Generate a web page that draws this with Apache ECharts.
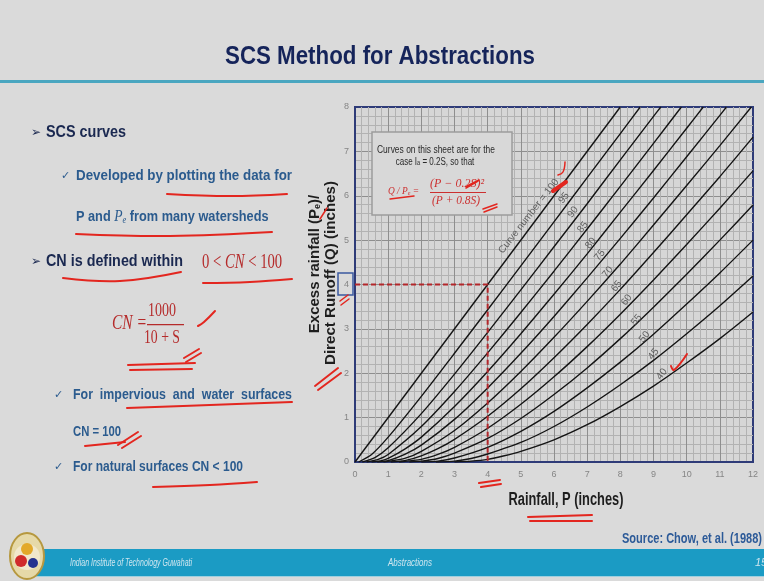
<!DOCTYPE html>
<html>
<head>
<meta charset="utf-8">
<script src="https://cdn.jsdelivr.net/npm/echarts@6/dist/echarts.min.js"></script>
<style>
  html, body { margin: 0; padding: 0; background: #dadada; }
  #main { width: 764px; height: 581px; }
</style>
</head>
<body>
<div id="main"></div>
<script>
// curve numbers, left (steepest) to right
const curveNumbers = [100, 95, 90, 85, 80, 75, 70, 65, 60, 55, 50, 45, 40];

// [rainfall P, runoff Q] in inches
const cn100 = [[0, 0], [8, 8]];
const cn95 = [[0.11, 0], [0.5, 0.17], [1, 0.56], [2, 1.48], [3, 2.45], [4, 3.43], [5, 4.42], [6, 5.41], [7, 6.41], [8, 7.40], [8.6, 8]];
const cn90 = [[0.22, 0], [0.6, 0.10], [1, 0.32], [2, 1.09], [3, 1.98], [4, 2.92], [5, 3.88], [6, 4.85], [7, 5.82], [8, 6.81], [9, 7.79], [9.22, 8]];
const cn85 = [[0.35, 0], [0.7, 0.06], [1, 0.17], [2, 0.80], [3, 1.59], [4, 2.46], [5, 3.37], [6, 4.30], [7, 5.25], [8, 6.21], [9, 7.18], [9.84, 8]];
const cn80 = [[0.5, 0], [0.8, 0.03], [1, 0.08], [1.5, 0.29], [2, 0.56], [3, 1.25], [4, 2.04], [5, 2.89], [6, 3.78], [7, 4.69], [8, 5.63], [9, 6.57], [10, 7.52], [10.5, 8]];
const cn75 = [[0.67, 0], [1, 0.03], [1.5, 0.17], [2, 0.38], [3, 0.96], [4, 1.67], [5, 2.45], [6, 3.28], [7, 4.15], [8, 5.04], [9, 5.95], [10, 6.88], [11, 7.81], [11.2, 8]];
const cn70 = [[0.86, 0], [1.5, 0.08], [2, 0.24], [3, 0.71], [4, 1.33], [5, 2.04], [6, 2.81], [7, 3.62], [8, 4.46], [9, 5.34], [10, 6.23], [11, 7.13], [11.95, 8]];
const cn65 = [[1.08, 0], [1.5, 0.03], [2, 0.14], [2.5, 0.30], [3, 0.51], [4, 1.03], [5, 1.65], [6, 2.35], [7, 3.10], [8, 3.89], [9, 4.72], [10, 5.57], [11, 6.43], [12, 7.32]];
const cn60 = [[1.33, 0], [2, 0.06], [2.5, 0.17], [3, 0.33], [4, 0.76], [5, 1.30], [6, 1.92], [7, 2.60], [8, 3.33], [9, 4.10], [10, 4.90], [11, 5.72], [12, 6.56]];
const cn55 = [[1.64, 0], [2, 0.02], [2.5, 0.08], [3, 0.20], [4, 0.53], [5, 0.98], [6, 1.52], [7, 2.12], [8, 2.78], [9, 3.49], [10, 4.23], [11, 5.00], [12, 5.79]];
const cn50 = [[2, 0], [2.5, 0.02], [3, 0.09], [4, 0.33], [5, 0.69], [6, 1.14], [7, 1.67], [8, 2.25], [9, 2.88], [10, 3.56], [11, 4.26], [12, 5.00]];
const cn45 = [[2.44, 0], [3, 0.02], [3.5, 0.08], [4, 0.18], [5, 0.44], [6, 0.80], [7, 1.24], [8, 1.74], [9, 2.29], [10, 2.89], [11, 3.52], [12, 4.19]];
const cn40 = [[3, 0], [3.5, 0.02], [4, 0.06], [4.5, 0.14], [5, 0.24], [6, 0.50], [7, 0.84], [8, 1.25], [9, 1.71], [10, 2.23], [11, 2.78], [12, 3.38]];
const curves = [cn100, cn95, cn90, cn85, cn80, cn75, cn70, cn65, cn60, cn55, cn50, cn45, cn40];

// red dashed read-off: P = 4 in -> Q = 4 in
const guideP = [0, 4, 4];
const guideQ = [4, 4, 0];

// where the curve-number labels sit (P, Q)
const labelText = ['Curve number = 100', '95', '90', '85', '80', '75', '70', '65', '60', '55', '50', '45', '40'];
const labelAt = [[5.24, 5.54], [6.30, 5.95], [6.57, 5.63], [6.87, 5.29], [7.11, 4.93], [7.38, 4.66], [7.62, 4.28],
                 [7.89, 3.96], [8.19, 3.65], [8.49, 3.20], [8.73, 2.82], [9.0, 2.43], [9.25, 1.98]];

const SANS = '"Liberation Sans", Arial, sans-serif';
const SERIF = '"Liberation Serif", "Times New Roman", serif';
const SYM = '"DejaVu Sans", sans-serif';
const NAVY = '#1a2850';
const BLUE = '#2b5b8e';
const RED = '#b52b2b';
const PEN = '#e3261f';
const NOFILL = 'rgba(0,0,0,0)';

// the slide is squeezed sideways, so fit each text to its measured width
const measureCtx = document.createElement('canvas').getContext('2d');
function fitScale(text, font, width) {
    measureCtx.font = font;
    return width / measureCtx.measureText(text).width;
}

function txt(x, y, text, font, fill, width, align, extra) {
    align = align || 'left';
    return Object.assign({
        type: 'text', x: x, y: y, z: 20,
        scaleX: width ? fitScale(text, font, width) : 1,
        style: { text: text, font: font, fill: fill, textAlign: align, textVerticalAlign: 'middle', align: align, verticalAlign: 'middle' }
    }, extra || {});
}

function pen(points, w) {
    return { type: 'polyline', z: 30, shape: { points: points, smooth: 0.4 }, style: { stroke: PEN, lineWidth: w || 2, fill: null, lineCap: 'round' } };
}

const graphics = [
    // title
    txt(380, 57, 'SCS Method for Abstractions', 'bold 25px ' + SANS, '#15245a', 310, 'center'),
    { type: 'rect', z: 5, shape: { x: 0, y: 80, width: 764, height: 3 }, style: { fill: '#4aa6c0' } },

    // left column
    txt(31, 133, '\u27a2', '12px ' + SYM, NAVY),
    txt(46, 133, 'SCS curves', 'bold 16px ' + SANS, NAVY, 80),
    txt(61, 176, '\u2713', '11px ' + SYM, BLUE),
    txt(76, 176, 'Developed by plotting the data for', 'bold 15px ' + SANS, BLUE, 216),
    {
        type: 'text', x: 76, y: 217, z: 20, scaleX: fitScale('P and Pe from many watersheds', 'bold 15px ' + SANS, 196),
        style: {
            text: '{a|P and }{p|P}{s|e}{a| from many watersheds}', verticalAlign: 'middle', textVerticalAlign: 'middle',
            rich: {
                a: { font: 'bold 15px ' + SANS, fill: BLUE, color: BLUE },
                p: { font: 'italic 16px ' + SERIF, fill: BLUE, color: BLUE },
                s: { font: 'italic 10px ' + SERIF, fill: BLUE, color: BLUE, verticalAlign: 'bottom' }
            }
        }
    },
    txt(31, 262, '\u27a2', '12px ' + SYM, NAVY),
    txt(46, 262, 'CN is defined within', 'bold 16px ' + SANS, NAVY, 137),
    {
        type: 'text', x: 202, y: 263, z: 20, scaleX: fitScale('0 < CN < 100', '20px ' + SERIF, 81),
        style: {
            text: '{n|0 < }{i|CN}{n| < 100}', verticalAlign: 'middle', textVerticalAlign: 'middle',
            rich: {
                n: { font: '20px ' + SERIF, fill: RED, color: RED },
                i: { font: 'italic 20px ' + SERIF, fill: RED, color: RED }
            }
        }
    },
    txt(112, 324, 'CN =', 'italic 20px ' + SERIF, RED, 35),
    txt(162, 311, '1000', '18px ' + SERIF, RED, 28, 'center'),
    { type: 'rect', z: 20, shape: { x: 147, y: 324, width: 37, height: 1.2 }, style: { fill: RED } },
    txt(162, 338, '10 + S', '18px ' + SERIF, RED, 36, 'center'),
    txt(54, 395, '\u2713', '11px ' + SYM, BLUE),
    txt(73, 395, 'For  impervious  and  water  surfaces', 'bold 15px ' + SANS, BLUE, 219),
    txt(73, 432, 'CN = 100', 'bold 15px ' + SANS, BLUE, 48),
    txt(54, 467, '\u2713', '11px ' + SYM, BLUE),
    txt(73, 467, 'For natural surfaces CN < 100', 'bold 15px ' + SANS, BLUE, 170),

    // axis titles
    {
        type: 'text', x: 315, y: 264, z: 20, rotation: Math.PI / 2,
        style: {
            text: '{a|Excess rainfall (P}{s|e}{a|)/}', textAlign: 'center', align: 'center', verticalAlign: 'middle', textVerticalAlign: 'middle',
            rich: { a: { font: 'bold 15px ' + SANS, fill: '#1e1e1e' }, s: { font: 'bold 9px ' + SANS, fill: '#1e1e1e', verticalAlign: 'bottom' } }
        }
    },
    txt(331, 273, 'Direct Runoff (Q) (inches)', 'bold 15px ' + SANS, '#1e1e1e', 184, 'center', { rotation: Math.PI / 2 }),
    txt(566, 500, 'Rainfall, P (inches)', 'bold 18px ' + SANS, '#1e1e1e', 115, 'center'),
    { type: 'rect', z: 20, shape: { x: 338, y: 273, width: 15, height: 22 }, style: { fill: NOFILL, stroke: '#3b5aa0', lineWidth: 1.5 } },

    // note box on the sheet
    { type: 'rect', z: 10, shape: { x: 372, y: 132, width: 140, height: 83 }, style: { fill: '#d8d8d8', stroke: '#9c9c9c', lineWidth: 1.5 } },
    txt(436, 150, 'Curves on this sheet are for the', '10px ' + SANS, '#2a2a2a', 118, 'center'),
    {
        type: 'text', x: 435, y: 162, z: 20, scaleX: fitScale('case Ia = 0.2S, so that', '10px ' + SANS, 80),
        style: {
            text: '{a|case I}{s|a}{a| = 0.2S, so that}', align: 'center', textAlign: 'center', verticalAlign: 'middle', textVerticalAlign: 'middle',
            rich: { a: { font: '10px ' + SANS, fill: '#2a2a2a' }, s: { font: '7px ' + SANS, fill: '#2a2a2a', verticalAlign: 'bottom' } }
        }
    },
    {
        type: 'text', x: 388, y: 191, z: 20, scaleX: 0.85,
        style: {
            text: '{a|Q / P}{s|e}{a| =}', verticalAlign: 'middle', textVerticalAlign: 'middle',
            rich: { a: { font: 'italic 11px ' + SERIF, fill: '#cc3030' }, s: { font: 'italic 7px ' + SERIF, fill: '#cc3030', verticalAlign: 'bottom' } }
        }
    },
    txt(457, 184, '(P \u2212 0.2S)\u00b2', 'italic 12px ' + SERIF, '#cc3030', 54, 'center'),
    { type: 'rect', z: 20, shape: { x: 430, y: 192, width: 56, height: 1 }, style: { fill: '#cc3030' } },
    txt(456, 201, '(P + 0.8S)', 'italic 12px ' + SERIF, '#cc3030', 48, 'center'),

    // footer
    { type: 'rect', z: 5, shape: { x: 30, y: 549, width: 734, height: 27 }, style: { fill: '#1b9bc4' } },
    { type: 'rect', z: 5, shape: { x: 30, y: 576, width: 734, height: 1 }, style: { fill: '#9fd0df' } },
    { type: 'ellipse', z: 6, shape: { cx: 27, cy: 556, rx: 17, ry: 23 }, style: { fill: '#e6d9a8', stroke: '#b6983f', lineWidth: 2 } },
    { type: 'circle', z: 7, shape: { cx: 27, cy: 557, r: 13 }, style: { fill: '#f1e8cc' } },
    { type: 'circle', z: 8, shape: { cx: 27, cy: 549, r: 6 }, style: { fill: '#e3a92a' } },
    { type: 'circle', z: 8, shape: { cx: 21, cy: 561, r: 6 }, style: { fill: '#d02b2b' } },
    { type: 'circle', z: 8, shape: { cx: 33, cy: 563, r: 5 }, style: { fill: '#26338f' } },
    txt(70, 563, 'Indian Institute of Technology Guwahati', 'italic 11px ' + SANS, '#cfe6ef', 122),
    txt(410, 563, 'Abstractions', 'italic 11px ' + SANS, '#cfe6ef', 44, 'center'),
    txt(755, 563, '15', 'italic 11px ' + SANS, '#cfe6ef'),
    txt(762, 539, 'Source: Chow, et al. (1988)', 'bold 15px ' + SANS, '#2c5a98', 140, 'right'),

    // red pen marks
    pen([[167, 194], [230, 196], [287, 194]]),
    pen([[76, 234], [170, 236], [272, 232]]),
    pen([[63, 278], [120, 281], [181, 272]]),
    pen([[203, 283], [250, 282], [292, 279]]),
    pen([[198, 326], [204, 322], [215, 311]]),
    pen([[128, 365], [195, 363]]),
    pen([[130, 370], [192, 369]]),
    pen([[184, 358], [199, 349]]),
    pen([[186, 362], [201, 353]]),
    pen([[127, 408], [210, 405], [292, 402]]),
    pen([[85, 446], [125, 442]]),
    pen([[118, 445], [138, 432]]),
    pen([[122, 448], [141, 436]]),
    pen([[153, 487], [210, 485], [257, 482]]),
    pen([[315, 386], [338, 368]]),
    pen([[318, 390], [341, 373]]),
    pen([[320, 219], [327, 208]], 1.5),
    pen([[340, 301], [348, 295]], 1.5),
    pen([[341, 305], [349, 299]], 1.5),
    pen([[479, 483], [500, 480]]),
    pen([[481, 487], [501, 484]]),
    pen([[528, 517], [592, 515]]),
    pen([[530, 521], [592, 521]]),
    pen([[553, 191], [566, 182]], 4),
    pen([[558, 175], [563, 172], [565, 162]], 1.5),
    pen([[671, 366], [674, 370], [687, 354]]),
    pen([[390, 199], [414, 196]], 1.5),
    pen([[466, 188], [478, 181]], 1.5),
    pen([[467, 186], [479, 180]], 1.5),
    pen([[483, 209], [497, 204]], 1.5),
    pen([[484, 212], [497, 207]], 1.5)
];

const chart = echarts.init(document.getElementById('main'));

const series = curves.map((d, i) => ({
    type: 'line',
    name: 'CN ' + curveNumbers[i],
    data: d,
    symbol: 'none',
    smooth: 0.2,
    silent: true,
    z: 3,
    lineStyle: { color: '#141414', width: 1.4 }
}));

series.push({
    type: 'line',
    name: 'read-off',
    data: guideP.map((p, i) => [p, guideQ[i]]),
    symbol: 'none',
    silent: true,
    z: 4,
    lineStyle: { color: '#b3262a', width: 2, type: [5, 3] }
});

series.push({
    type: 'scatter',
    name: 'labels',
    data: labelAt.map((p, i) => ({ value: p, name: labelText[i] })),
    symbolSize: 0,
    silent: true,
    z: 5,
    label: { show: true, position: 'inside', formatter: '{b}', rotate: 52, color: '#444', fontSize: 10, fontFamily: SANS }
});

chart.setOption({
    backgroundColor: '#dadada',
    animation: false,
    grid: { left: 355, top: 107, width: 398, height: 355, show: true, backgroundColor: '#d6d6d6', borderColor: '#2e3b78', borderWidth: 2 },
    xAxis: {
        type: 'value', min: 0, max: 12, interval: 1,
        axisLine: { show: true, lineStyle: { color: '#2e3b78', width: 2 } },
        axisTick: { show: false },
        axisLabel: { color: '#858585', fontSize: 9, margin: 8, fontFamily: SANS },
        splitLine: { show: true, showMinLine: false, showMaxLine: false, lineStyle: { color: '#8e8e8e', width: 1 } },
        minorTick: { show: false, splitNumber: 5 },
        minorSplitLine: { show: true, lineStyle: { color: '#b2b2b2', width: 1 } }
    },
    yAxis: {
        type: 'value', min: 0, max: 8, interval: 1,
        axisLine: { show: true, lineStyle: { color: '#2e3b78', width: 2 } },
        axisTick: { show: false },
        axisLabel: { color: '#858585', fontSize: 9, margin: 6, fontFamily: SANS },
        splitLine: { show: true, showMinLine: false, showMaxLine: false, lineStyle: { color: '#8e8e8e', width: 1 } },
        minorTick: { show: false, splitNumber: 5 },
        minorSplitLine: { show: true, lineStyle: { color: '#b2b2b2', width: 1 } }
    },
    series: series,
    graphic: { elements: graphics }
});
</script>
</body>
</html>
